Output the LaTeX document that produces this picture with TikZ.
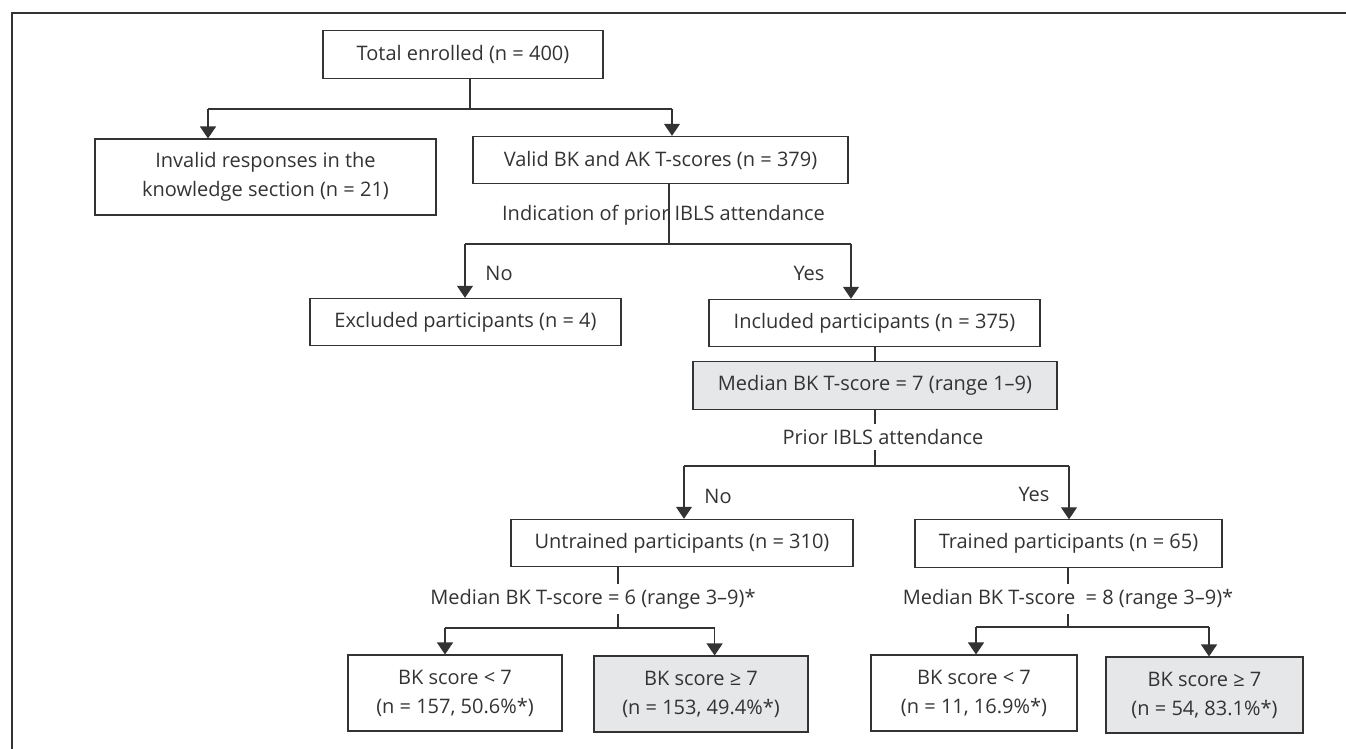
\documentclass[tikz,border=0pt]{standalone}
\usepackage{fontspec}
\setmainfont{Open Sans}
\usetikzlibrary{arrows.meta}
\definecolor{ink}{HTML}{333333}
\definecolor{shade}{HTML}{E6E7E8}

\begin{document}
\begin{tikzpicture}[x=0.75pt, y=-0.75pt,
  font=\fontsize{15}{21.75}\selectfont,
  box/.style={draw=ink, line width=0.8pt, text=ink, align=center, minimum height=35.5pt, inner sep=0pt},
  boxtwo/.style={box, minimum height=57pt},
  shaded/.style={fill=shade},
  lbl/.style={text=ink, inner sep=3.5pt},
  link/.style={draw=ink, line width=0.8pt},
  arr/.style={link, -{Triangle[width=12pt,length=9pt]}}]

\path[use as bounding box] (0,0) rectangle (1346,749);
\draw [ink, line width=1pt] (1346,13) -- (12,13) -- (12,749);

%%%%%%%%%%%%%%%%%%%%%%%%%%%%%%%%%%%%%%%%%%%%%%%%%%%%%%%%%%%%%%%%%%%%%%%%%%%%%%%%%%%
\node (total) at (463,54.5) [box, minimum width=210pt] {Total enrolled (n = 400)};
\node (invalid) at (265.5,177) [boxtwo, minimum width=255.75pt] {Invalid responses in the\\knowledge section (n = 21)};
\node (valid) at (660.5,160) [box, minimum width=281.25pt] {Valid BK and AK T-scores (n = 379)};

\coordinate (j1) at (470,109);
\coordinate (j1l) at (208,109);
\coordinate (j1r) at (672,109);
\draw [link] (total.south -| j1) -- (j1);
\draw [link] (j1l) -- (j1r);
\draw [arr] (j1l) -- (invalid.north -| j1l);
\draw [arr] (j1r) -- (valid.north -| j1r);

%%%%%%%%%%%%%%%%%%%%%%%%%%%%%%%%%%%%%%%%%%%%%%%%%%%%%%%%%%%%%%%%%%%%%%%%%%%%%%%%%%%
\node (excluded) at (465.5,322) [box, minimum width=233.25pt] {Excluded participants (n = 4)};
\node (included) at (874.5,323) [box, minimum width=248.25pt] {Included participants (n = 375)};
\node (median) at (875,385.5) [box, shaded, minimum width=273pt] {Median BK T-score = 7 (range 1–9)};

\coordinate (j2) at (669,244);
\coordinate (j2l) at (465,244);
\coordinate (j2r) at (851,244);
\draw [link] (valid.south -| j2) -- (j2);
\node (askIBLS) at (663.5,215) [lbl] {Indication of prior IBLS attendance};
\draw [link] (j2l) -- (j2r);
\draw [arr] (j2l) -- (excluded.north -| j2l);
\draw [arr] (j2r) -- (included.north -| j2r);
\node (noA) at (499,273) [lbl] {No};
\node (yesA) at (809,273) [lbl] {Yes};
\draw [link] (included.south -| median) -- (median);

%%%%%%%%%%%%%%%%%%%%%%%%%%%%%%%%%%%%%%%%%%%%%%%%%%%%%%%%%%%%%%%%%%%%%%%%%%%%%%%%%%%
\node (untrained) at (682,543) [box, minimum width=256.5pt] {Untrained participants (n = 310)};
\node (trained) at (1068.5,543.5) [box, minimum width=230.25pt] {Trained participants (n = 65)};

\coordinate (j3) at (875,466);
\coordinate (j3l) at (684,466);
\coordinate (j3r) at (1069,466);
\node (askPrior) at (883,437) [lbl] {Prior IBLS attendance};
\draw [link] (median.south -| j3) -- (askPrior.north -| j3);
\draw [link] (askPrior.south -| j3) -- (j3);
\draw [link] (j3l) -- (j3r);
\draw [arr] (j3l) -- (untrained.north -| j3l);
\draw [arr] (j3r) -- (trained.north -| j3r);
\node (noB) at (718,496) [lbl] {No};
\node (yesB) at (1034,494) [lbl] {Yes};

%%%%%%%%%%%%%%%%%%%%%%%%%%%%%%%%%%%%%%%%%%%%%%%%%%%%%%%%%%%%%%%%%%%%%%%%%%%%%%%%%%%
\node (lowU) at (455,693) [boxtwo, minimum width=160.5pt] {BK score < 7\\(n = 157, 50.6\%*)};
\node (highU) at (701,694) [boxtwo, shaded, minimum width=160.5pt] {BK score ≥ 7\\(n = 153, 49.4\%*)};
\node (lowT) at (974,693) [boxtwo, minimum width=154.5pt] {BK score < 7\\(n = 11, 16.9\%*)};
\node (highT) at (1204.5,695) [boxtwo, shaded, minimum width=147.75pt] {BK score ≥ 7\\(n = 54, 83.1\%*)};

\coordinate (j4) at (618,628);
\coordinate (j4l) at (445,628);
\coordinate (j4r) at (714.6,628);
\node (medU) at (593,599) [lbl] {Median BK T-score = 6 (range 3–9)*};
\draw [link] (untrained.south -| j4) -- (medU.north -| j4);
\draw [link] (medU.south -| j4) -- (j4);
\draw [link] (j4l) -- (j4r);
\draw [arr] (j4l) -- (lowU.north -| j4l);
\draw [arr] (j4r) -- (highU.north -| j4r);

\coordinate (j5) at (1068,627);
\coordinate (j5l) at (976,627);
\coordinate (j5r) at (1209,627);
\node (medT) at (1068,599) [lbl] {Median BK T-score\ \ = 8 (range 3–9)*};
\draw [link] (trained.south -| j5) -- (medT.north -| j5);
\draw [link] (medT.south -| j5) -- (j5);
\draw [link] (j5l) -- (j5r);
\draw [arr] (j5l) -- (lowT.north -| j5l);
\draw [arr] (j5r) -- (highT.north -| j5r);

\end{tikzpicture}
\end{document}
